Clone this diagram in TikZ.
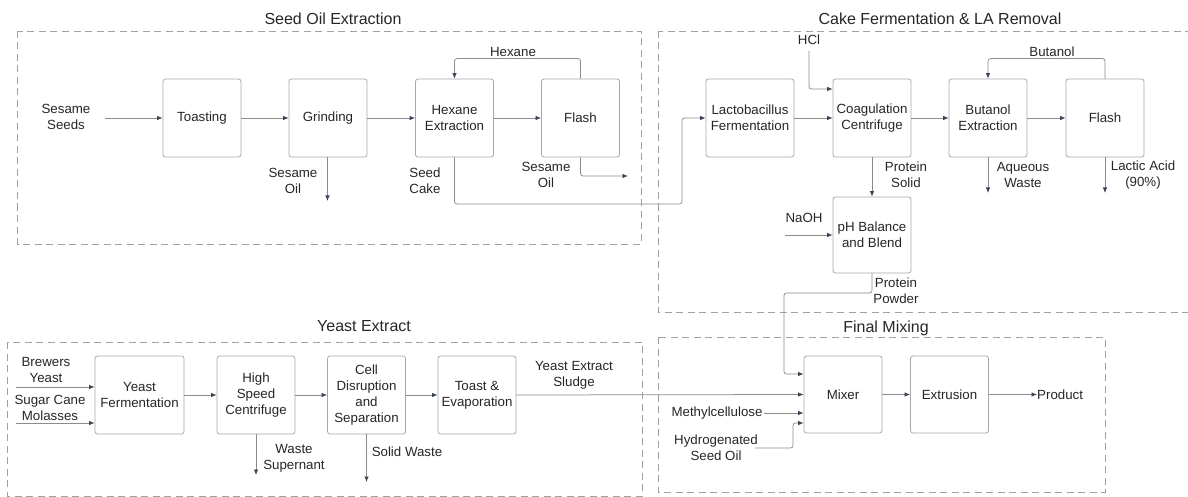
\documentclass[tikz,border=0pt]{standalone}
\usepackage{fontspec}
\setmainfont{Liberation Sans}
\usetikzlibrary{arrows.meta}
\definecolor{linec}{HTML}{8C8C8C}
\definecolor{boxc}{HTML}{A8A8A8}
\definecolor{dashc}{HTML}{A0A0A0}
\definecolor{tipc}{HTML}{3A4558}
\definecolor{txtc}{HTML}{262626}
\begin{document}
\begin{tikzpicture}[x=1pt,y=-1pt,
  every node/.style={text=txtc,font=\fontsize{13.3}{16}\selectfont},
  proc/.style={draw=boxc,line width=0.8pt,rounded corners=2.5pt,fill=white,
    minimum width=78pt,minimum height=78pt,inner sep=0pt,align=center},
  lbl/.style={align=center,inner sep=0pt},
  grp/.style={draw=dashc,line width=0.8pt,dash pattern=on 7pt off 4.5pt},
  ttl/.style={font=\fontsize{16}{19}\selectfont,inner sep=0pt},
  flow/.style={draw=linec,line width=0.75pt,rounded corners=2.5pt,
    -{Latex[length=5.5pt,width=4.5pt,color=tipc]}},
  plain/.style={draw=linec,line width=0.75pt,rounded corners=2.5pt}
]
\useasboundingbox (0,0) rectangle (1188,497);

% group boxes
\draw[grp] (17.5,31) rectangle (641,244);
\draw[grp] (658,31) rectangle (1196,312);
\draw[grp] (7.5,342) rectangle (642,496);
\draw[grp] (658,337) rectangle (1105,492);
\node[ttl] (t1) at (333,19) {Seed Oil Extraction};
\node[ttl] (t2) at (940,19) {Cake Fermentation \& LA Removal};
\node[ttl] (t3) at (364,326) {Yeast Extract};
\node[ttl] (t4) at (886,328) {Final Mixing};

% row 1
\node[proc] (toast) at (202,118) {Toasting};
\node[proc] (grind) at (328,118) {Grinding};
\node[proc] (hexext) at (454.5,118) {Hexane\\Extraction};
\node[proc] (flash) at (580.5,118) {Flash};
\node[proc,minimum width=88pt] (lacto) at (750,118) {Lactobacillus\\Fermentation};
\node[proc] (coag) at (872,118) {Coagulation\\Centrifuge};
\node[proc] (buta) at (988,118) {Butanol\\Extraction};
\node[proc] (flash2) at (1105,118) {Flash};
\node[proc,minimum height=76pt] (ph) at (872,235) {pH Balance\\and Blend};

% yeast row
\node[proc,minimum width=89pt] (yferm) at (139.5,395) {Yeast\\Fermentation};
\node[proc] (hsc) at (256,395) {High\\Speed\\Centrifuge};
\node[proc] (cell) at (366.5,395) {Cell\\Disruption\\and\\Separation};
\node[proc] (toastev) at (477,395) {Toast \&\\Evaporation};
\node[proc,minimum height=77pt] (mixer) at (843,394.5) {Mixer};
\node[proc,minimum height=77pt] (extr) at (949.5,394.5) {Extrusion};

% labels
\node[lbl] (seeds) at (66,117) {Sesame\\Seeds};
\node[lbl] (hexl) at (513,52) {Hexane};
\node[lbl] (soil1) at (293,181) {Sesame\\Oil};
\node[lbl] (cake) at (425,181) {Seed\\Cake};
\node[lbl] (soil2) at (546,175) {Sesame\\Oil};
\node[lbl] (hcl) at (809,40) {HCl};
\node[lbl] (butl) at (1052,52) {Butanol};
\node[lbl] (psol) at (906,175) {Protein\\Solid};
\node[lbl] (aqw) at (1023,175) {Aqueous\\Waste};
\node[lbl] (lac) at (1143,175) {Lactic Acid\\(90\%)};
\node[lbl] (naoh) at (804,218) {NaOH};
\node[lbl] (ppow) at (896,291) {Protein\\Powder};
\node[lbl] (brew) at (46,370) {Brewers\\Yeast};
\node[lbl] (sugar) at (50,408) {Sugar Cane\\Molasses};
\node[lbl] (yes) at (574,375) {Yeast Extract\\Sludge};
\node[lbl] (wsup) at (294,458) {Waste\\Supernant};
\node[lbl] (swaste) at (407,452) {Solid Waste};
\node[lbl] (methyl) at (717,413) {Methylcellulose};
\node[lbl] (hydro) at (716,447.5) {Hydrogenated\\Seed Oil};
\node[lbl,anchor=west] (prod) at (1037,394.5) {Product};

% coordinates
\coordinate (seedin) at (105,118);
\coordinate (soilout) at (327.5,201);
\coordinate (cakeb) at (682,204);
\coordinate (soil2out) at (628,176);
\coordinate (hcltop) at (809,51);
\coordinate (aqout) at (988,193);
\coordinate (lacout) at (1105,193);
\coordinate (naohin) at (785,235);
\coordinate (ppb) at (784,293);
\coordinate (brewin) at (16,387);
\coordinate (sugarin) at (16,423);
\coordinate (wsout) at (256,475);
\coordinate (swout) at (366.5,482);
\coordinate (methin) at (764,413);
\coordinate (hydin) at (755,448);
\coordinate (hydb) at (793,448);

% row 1 flows
\draw[flow] (seedin) -- (toast.west);
\draw[flow] (toast) -- (grind);
\draw[flow] (grind) -- (hexext);
\draw[flow] (hexext) -- (flash);
\draw[flow] (flash.north) -- ++(0,-20) -| (hexext.north);
\draw[flow] (grind.south -| soilout) -- (soilout);
\draw[flow] (hexext.south) |- (cakeb) |- (lacto.west);
\draw[flow] (flash.south) |- (soil2out);
\draw[flow] (lacto) -- (coag);
\draw[flow] (coag) -- (buta);
\draw[flow] (buta) -- (flash2);
\draw[flow] (hcltop) |- ([yshift=29pt]coag.west);
\draw[flow] (flash2.north) -- ++(0,-20) -| (buta.north);
\draw[flow] (coag) -- (ph);
\draw[flow] (buta.south) -- (aqout);
\draw[flow] (flash2.south) -- (lacout);
\draw[flow] (naohin) -- (ph.west);
\draw[flow] (ph.south) |- (ppb) |- ([yshift=20.5pt]mixer.west);

% yeast flows
\draw[flow] (brewin) -- (brewin -| yferm.west);
\draw[flow] (sugarin) -- (sugarin -| yferm.west);
\draw[flow] (yferm) -- (hsc);
\draw[flow] (hsc) -- (cell);
\draw[flow] (cell) -- (toastev);
\draw[flow] (toastev.east) -- (mixer.west);
\draw[flow] (hsc.south) -- (wsout);
\draw[flow] (cell.south) -- (swout);

% final
\draw[flow] (methin) -- (methin -| mixer.west);
\draw[flow] (hydin) -- (hydb) -- ([yshift=-28.5pt]mixer.west -| hydb) -- ([yshift=-28.5pt]mixer.west);
\draw[flow] (mixer) -- (extr);
\draw[flow] (extr.east) -- (prod.west);
\end{tikzpicture}
\end{document}
